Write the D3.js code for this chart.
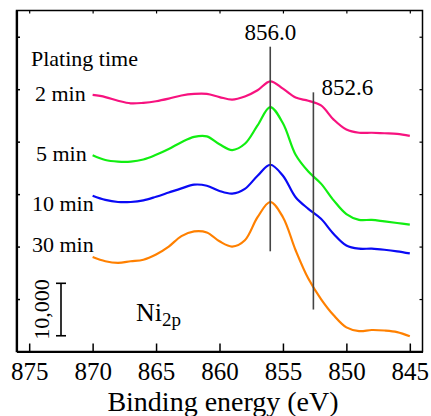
<!DOCTYPE html>
<html>
<head>
<meta charset="utf-8">
<script src="https://cdn.jsdelivr.net/npm/d3@7"></script>
<style>
  html, body { margin: 0; padding: 0; background: #fff; }
  svg { display: block; font-family: "Liberation Serif", "Times New Roman", serif; }
</style>
</head>
<body>
<svg id="chart" width="431" height="416"></svg>
<script>
// binding energy (eV), one reading per eV
var energies = [870, 869, 868, 867, 866, 865, 864, 863, 862, 861, 860, 859, 858,
                857, 856, 855, 854, 853, 852, 851, 850, 849, 848, 847, 846, 845];

// intensity in thousands of counts (offset stacked as in the figure)
var counts2min  = [48.9, 48.5, 47.8, 47.3, 47.4, 47.7, 48.2, 48.8, 49.1, 49.1, 48.5, 48.0, 48.6,
                   49.8, 51.5, 50.1, 48.4, 47.8, 46.9, 44.2, 42.3, 41.7, 41.7, 41.6, 41.5, 41.1];
var counts5min  = [37.4, 36.5, 36.2, 36.2, 36.6, 37.5, 38.6, 39.9, 40.9, 41.0, 39.5, 38.4, 39.6,
                   43.1, 46.6, 43.5, 37.5, 34.3, 32.0, 28.8, 26.2, 25.1, 25.1, 24.8, 24.5, 24.2];
var counts10min = [29.7, 28.9, 28.5, 28.5, 28.8, 29.5, 30.3, 31.1, 31.8, 31.6, 30.6, 30.1, 31.0,
                   33.5, 35.6, 33.5, 29.4, 27.2, 25.3, 22.4, 20.2, 19.6, 19.6, 19.4, 19.1, 18.7];
var counts30min = [18.0, 17.2, 16.9, 17.2, 17.5, 18.5, 20.0, 22.0, 22.9, 22.7, 21.0, 20.0, 21.2,
                   25.6, 28.5, 25.6, 19.3, 13.9, 10.0, 6.9, 4.6, 3.9, 4.1, 4.0, 3.7, 2.9];

var seriesNames = ["2 min", "5 min", "10 min", "30 min"];
var seriesColors = ["#f7127f", "#11ee11", "#0a0af5", "#ff8000"];
var seriesValues = [counts2min, counts5min, counts10min, counts30min];

var xTicks = [875, 870, 865, 860, 855, 850, 845];
var yTicks = [10, 20, 30, 40, 50, 60];

var peakPositions = [856.0, 852.6];
var peakLabels = ["856.0", "852.6"];

var svg = d3.select("#chart");

var frame = { left: 16.5, right: 422.5, top: 10.5, bottom: 351.5 };

var x = d3.scaleLinear().domain([876, 844]).range([frame.left, frame.right]);
var y = d3.scaleLinear().domain([0, 65]).range([frame.bottom, frame.top]);

// frame
svg.append("rect")
  .attr("x", frame.left).attr("y", frame.top)
  .attr("width", frame.right - frame.left).attr("height", frame.bottom - frame.top)
  .attr("fill", "none").attr("stroke", "#000").attr("stroke-width", 1.5);

// bottom axis with inward ticks
var xAxis = svg.append("g")
  .attr("transform", "translate(0," + frame.bottom + ")")
  .call(d3.axisBottom(x).tickValues(xTicks).tickSizeInner(-8).tickSizeOuter(0).tickPadding(11));
xAxis.attr("font-family", "Liberation Serif").attr("font-size", 25);
xAxis.select(".domain").attr("stroke-width", 2.2);
xAxis.selectAll(".tick line").attr("stroke-width", 1.5);
xAxis.selectAll("text").attr("fill", "#000");

// top ticks
var xTop = svg.append("g")
  .attr("transform", "translate(0," + frame.top + ")")
  .call(d3.axisTop(x).tickValues(xTicks).tickSizeInner(-3).tickSizeOuter(0).tickFormat(""));
xTop.select(".domain").remove();
xTop.selectAll(".tick line").attr("stroke-width", 1.2);

// left axis, no labels
var yAxis = svg.append("g")
  .attr("transform", "translate(" + frame.left + ",0)")
  .call(d3.axisLeft(y).tickValues(yTicks).tickSizeInner(-3.5).tickSizeOuter(0).tickFormat(""));
yAxis.select(".domain").attr("stroke-width", 2.2);
yAxis.selectAll(".tick line").attr("stroke-width", 1.5);

// right ticks
var yRight = svg.append("g")
  .attr("transform", "translate(" + frame.right + ",0)")
  .call(d3.axisRight(y).tickValues(yTicks).tickSizeInner(-3).tickSizeOuter(0).tickFormat(""));
yRight.select(".domain").remove();
yRight.selectAll(".tick line").attr("stroke-width", 1.2);

// spectra
var line = d3.line()
  .x(function(d) { return x(d[0]); })
  .y(function(d) { return y(d[1]); })
  .curve(d3.curveCatmullRom.alpha(0.5));

seriesValues.forEach(function(vals, i) {
  var pts = energies.map(function(e, j) { return [e, vals[j]]; });
  svg.append("path")
    .datum(pts)
    .attr("d", line)
    .attr("fill", "none")
    .attr("stroke", seriesColors[i])
    .attr("stroke-width", 2.2)
    .attr("stroke-linejoin", "round");
});

// peak marker lines and labels
var markerSpans = [[19.1, 58.1], [8.0, 49.4]];
peakPositions.forEach(function(p, i) {
  svg.append("line")
    .attr("x1", x(p)).attr("x2", x(p))
    .attr("y1", y(markerSpans[i][0])).attr("y2", y(markerSpans[i][1]))
    .attr("stroke", "#444").attr("stroke-width", 1.6);
});
svg.append("text")
  .attr("x", x(peakPositions[0])).attr("y", 40)
  .attr("text-anchor", "middle")
  .attr("font-size", 23)
  .text(peakLabels[0]);
svg.append("text")
  .attr("x", x(peakPositions[1]) + 8).attr("y", 95)
  .attr("font-size", 23)
  .text(peakLabels[1]);

// legend text
svg.append("text")
  .attr("x", 31).attr("y", 65.5)
  .attr("font-size", 22)
  .text("Plating time");

var nameBaselines = [100.5, 160.5, 211, 251.5];
var nameX = [35, 36, 32, 32];
seriesNames.forEach(function(n, i) {
  svg.append("text")
    .attr("x", nameX[i]).attr("y", nameBaselines[i])
    .attr("font-size", 22)
    .text(n);
});

// scale bar: 10,000 counts
var barX = 61;
var barG = svg.append("g").attr("stroke", "#000").attr("stroke-width", 1.6);
barG.append("line").attr("x1", barX).attr("x2", barX).attr("y1", y(3)).attr("y2", y(13));
barG.append("line").attr("x1", barX - 5).attr("x2", barX + 5).attr("y1", y(3)).attr("y2", y(3));
barG.append("line").attr("x1", barX - 5).attr("x2", barX + 5).attr("y1", y(13)).attr("y2", y(13));

svg.append("text")
  .attr("transform", "translate(49," + ((y(3) + y(13)) / 2) + ") rotate(-90)")
  .attr("text-anchor", "middle")
  .attr("font-size", 22)
  .text("10,000");

// Ni2p label
var ni = svg.append("text")
  .attr("x", 136).attr("y", 321)
  .attr("font-size", 26);
ni.append("tspan").text("Ni");
ni.append("tspan").attr("font-size", 19).attr("dy", 5).text("2p");

// axis title
svg.append("text")
  .attr("x", 223).attr("y", 411)
  .attr("text-anchor", "middle")
  .attr("font-size", 28)
  .text("Binding energy (eV)");
</script>
</body>
</html>
